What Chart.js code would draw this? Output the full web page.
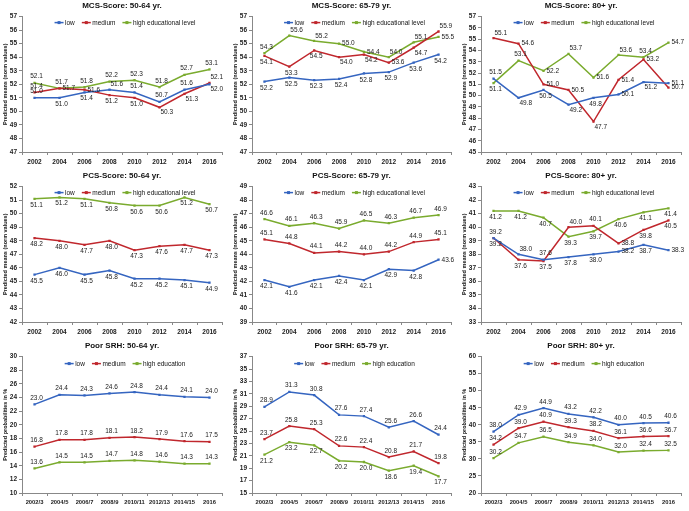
<!DOCTYPE html>
<html>
<head>
<meta charset="utf-8">
<script src="https://cdn.jsdelivr.net/npm/chart.js@4.4.1/dist/chart.umd.min.js"></script>
<style>
    body { margin: 0; background: #fff; }
    .panel { position: absolute; }
</style>
</head>
<body>
<div id="grid"></div>
<script>
// categories
const YEARS = ['2002', '2004', '2006', '2008', '2010', '2012', '2014', '2016']
const WAVES = ['2002/3', '2004/5', '2006/7', '2008/9', '2010/11', '2012/13', '2014/15', '2016']
const NAMES_SF12 = ['low', 'medium', 'high educational level']
const NAMES_SRH = ['low', 'medium', 'high education']

// MCS-Score
const mcs5064Low = [51.0, 51.0, 51.4, 51.6, 51.4, 50.7, 51.6, 52.0]
const mcs5064Medium = [51.4, 51.7, 51.6, 51.2, 51.0, 50.3, 51.3, 52.1]
const mcs5064High = [52.1, 51.7, 51.8, 52.2, 52.3, 51.8, 52.7, 53.1]

const mcs6579Low = [52.2, 52.5, 52.3, 52.4, 52.8, 52.9, 53.6, 54.2]
const mcs6579Medium = [54.1, 53.3, 54.5, 54.0, 54.2, 53.6, 54.7, 55.9]
const mcs6579High = [54.3, 55.6, 55.2, 55.0, 54.4, 54.0, 55.1, 55.5]

const mcs80Low = [51.5, 49.8, 50.5, 49.2, 49.8, 50.1, 51.2, 51.1]
const mcs80Medium = [55.1, 54.6, 51.0, 50.5, 47.7, 51.4, 53.2, 50.7]
const mcs80High = [51.1, 53.1, 52.2, 53.7, 51.6, 53.6, 53.4, 54.7]

// PCS-Score
const pcs5064Low = [45.5, 46.0, 45.5, 45.8, 45.2, 45.2, 45.1, 44.9]
const pcs5064Medium = [48.2, 48.0, 47.7, 48.0, 47.3, 47.6, 47.7, 47.3]
const pcs5064High = [51.1, 51.2, 51.1, 50.8, 50.6, 50.6, 51.2, 50.7]

const pcs6579Low = [42.1, 41.6, 42.1, 42.4, 42.1, 42.9, 42.8, 43.6]
const pcs6579Medium = [45.1, 44.8, 44.1, 44.2, 44.0, 44.2, 44.9, 45.1]
const pcs6579High = [46.6, 46.1, 46.3, 45.9, 46.5, 46.3, 46.7, 46.9]

const pcs80Low = [39.2, 38.0, 37.6, 37.8, 38.0, 38.2, 38.7, 38.3]
const pcs80Medium = [39.2, 37.6, 37.5, 40.0, 40.1, 38.8, 39.8, 40.5]
const pcs80High = [41.2, 41.2, 40.7, 39.3, 39.7, 40.6, 41.1, 41.4]

// Poor SRH (%)
const srh5064Low = [23.0, 24.4, 24.3, 24.6, 24.8, 24.4, 24.1, 24.0]
const srh5064Medium = [16.8, 17.8, 17.8, 18.1, 18.2, 17.9, 17.6, 17.5]
const srh5064High = [13.6, 14.5, 14.5, 14.7, 14.8, 14.6, 14.3, 14.3]

const srh6579Low = [28.9, 31.3, 30.8, 27.6, 27.4, 25.6, 26.6, 24.4]
const srh6579Medium = [23.7, 25.8, 25.3, 22.6, 22.4, 20.8, 21.7, 19.8]
const srh6579High = [21.2, 23.2, 22.7, 20.2, 20.0, 18.6, 19.4, 17.7]

const srh80Low = [38.0, 42.9, 44.9, 43.2, 42.2, 40.0, 40.5, 40.6]
const srh80Medium = [34.2, 39.0, 40.9, 39.3, 38.2, 36.1, 36.6, 36.7]
const srh80High = [30.2, 34.7, 36.5, 34.9, 34.0, 32.0, 32.4, 32.5]

const COLORS = ['#3565c0', '#c0272d', '#7aab2e']
const Y_MEANS = 'Predicted means (norm values)'
const Y_PROB = 'Predicted probabilities in %'

// label placement per series: a above, b below, r right, A above-right, B below-right
const PANELS = [
    { title: 'MCS-Score: 50-64 yr.', labels: YEARS, names: NAMES_SF12, data: [mcs5064Low, mcs5064Medium, mcs5064High], min: 47, max: 57, step: 1, yTitle: Y_MEANS,
      place: ['abbAaaaB', 'arrbbBBA', 'aaaaaaaa'] },
    { title: 'MCS-Score: 65-79 yr.', labels: YEARS, names: NAMES_SF12, data: [mcs6579Low, mcs6579Medium, mcs6579High], min: 47, max: 57, step: 1, yTitle: Y_MEANS,
      place: ['bbbbbbbb', 'bbbBBrBA', 'aAArrAAr'] },
    { title: 'MCS-Score: 80+ yr.', labels: YEARS, names: NAMES_SF12, data: [mcs80Low, mcs80Medium, mcs80High], min: 45, max: 57, step: 1, yTitle: Y_MEANS,
      place: ['aBbBbrBr', 'ArrrBrrr', 'barArAar'] },
    { title: 'PCS-Score: 50-64 yr.', labels: YEARS, names: NAMES_SF12, data: [pcs5064Low, pcs5064Medium, pcs5064High], min: 42, max: 52, step: 1, yTitle: Y_MEANS,
      place: ['bbbbbbbb', 'bbbbbbbb', 'bbbbbbbb'] },
    { title: 'PCS-Score: 65-79 yr.', labels: YEARS, names: NAMES_SF12, data: [pcs6579Low, pcs6579Medium, pcs6579High], min: 39, max: 49, step: 1, yTitle: Y_MEANS,
      place: ['bbbbbbbr', 'aaaaaaaa', 'aaaaaaaa'] },
    { title: 'PCS-Score: 80+ yr.', labels: YEARS, names: NAMES_SF12, data: [pcs80Low, pcs80Medium, pcs80High], min: 33, max: 43, step: 1, yTitle: Y_MEANS,
      place: ['aAabbrbr', 'bbbAarbb', 'bbbbbbbb'] },
    { title: 'Poor SRH: 50-64 yr.', labels: WAVES, names: NAMES_SRH, data: [srh5064Low, srh5064Medium, srh5064High], min: 10, max: 30, step: 2, yTitle: Y_PROB,
      place: ['aaaaaaaa', 'aaaaaaaa', 'aaaaaaaa'] },
    { title: 'Poor SRH: 65-79 yr.', labels: WAVES, names: NAMES_SRH, data: [srh6579Low, srh6579Medium, srh6579High], min: 15, max: 37, step: 2, yTitle: Y_PROB,
      place: ['aaaaaaaa', 'aaaaaaaa', 'bbbbbbbb'] },
    { title: 'Poor SRH: 80+ yr.', labels: WAVES, names: NAMES_SRH, data: [srh80Low, srh80Medium, srh80High], min: 20, max: 60, step: 5, yTitle: Y_PROB,
      place: ['aaaaaaaa', 'aaaaaaaa', 'aaaaaaaa'] },
]

const COL_X = [0, 230, 459]
const COL_W = [230, 229, 230]
const ROW_Y = [0, 170, 340]
const ROW_H = [170, 170, 171]
const FONT = '"Liberation Sans", Arial, sans-serif'

// draws the value of every point next to it
const valueLabels = {
    id: 'valueLabels',
    afterDatasetsDraw(chart, args, opts) {
        const ctx = chart.ctx
        ctx.save()
        ctx.font = `6.5px ${FONT}`
        ctx.fillStyle = '#222'
        chart.data.datasets.forEach((ds, i) => {
            const place = opts.place[i]
            chart.getDatasetMeta(i).data.forEach((pt, j) => {
                const txt = ds.data[j].toFixed(1)
                const p = place[j]
                let x = pt.x, y = pt.y
                if (p === 'a') { ctx.textAlign = 'center'; ctx.textBaseline = 'bottom'; x += 2; y -= 3 }
                else if (p === 'b') { ctx.textAlign = 'center'; ctx.textBaseline = 'top'; x += 2; y += 3 }
                else if (p === 'r') { ctx.textAlign = 'left'; ctx.textBaseline = 'middle'; x += 3 }
                else if (p === 'A') { ctx.textAlign = 'left'; ctx.textBaseline = 'bottom'; x += 1; y -= 2 }
                else { ctx.textAlign = 'left'; ctx.textBaseline = 'top'; x += 1; y += 2 }
                ctx.fillText(txt, x, y)
            })
        })
        ctx.restore()
    }
}

// horizontal legend inside the top of the plot (line + square marker)
const innerLegend = {
    id: 'innerLegend',
    afterDraw(chart, args, opts) {
        const ctx = chart.ctx
        const area = chart.chartArea
        ctx.save()
        ctx.font = `6.5px ${FONT}`
        ctx.textBaseline = 'middle'
        ctx.textAlign = 'left'
        const items = chart.data.datasets.map(ds => ({ text: ds.label, color: ds.borderColor, w: ctx.measureText(ds.label).width }))
        const lineW = 9, gap = 1.5, sep = 7
        const total = items.reduce((s, it) => s + lineW + gap + it.w, 0) + sep * (items.length - 1)
        let x = (area.left + area.right) / 2 - total / 2 + opts.shift
        const y = area.top + opts.dy
        items.forEach(it => {
            ctx.strokeStyle = it.color
            ctx.fillStyle = it.color
            ctx.lineWidth = 1.5
            ctx.beginPath()
            ctx.moveTo(x, y)
            ctx.lineTo(x + lineW, y)
            ctx.stroke()
            ctx.fillRect(x + lineW / 2 - 1.5, y - 1.5, 3, 3)
            ctx.fillStyle = '#111'
            ctx.fillText(it.text, x + lineW + gap, y + 0.5)
            x += lineW + gap + it.w + sep
        })
        ctx.restore()
    }
}

const grid = document.getElementById('grid')
PANELS.forEach((panel, k) => {
    const col = k % 3, row = Math.floor(k / 3)
    const div = document.createElement('div')
    div.className = 'panel'
    div.style.left = COL_X[col] + 'px'
    div.style.top = ROW_Y[row] + 'px'
    const canvas = document.createElement('canvas')
    canvas.width = COL_W[col]
    canvas.height = ROW_H[row]
    div.appendChild(canvas)
    grid.appendChild(div)

    const datasets = panel.data.map((values, i) => ({
        label: panel.names[i],
        data: values,
        borderColor: COLORS[i],
        backgroundColor: COLORS[i],
        borderWidth: 1.5,
        pointStyle: 'rect',
        pointRadius: 1.6,
        pointBorderWidth: 0,
        tension: 0,
    }))

    new Chart(canvas, {
        type: 'line',
        data: { labels: panel.labels, datasets },
        options: {
            responsive: false,
            animation: false,
            devicePixelRatio: 1,
            layout: { padding: { left: 2, right: 8, top: 0, bottom: 0 } },
            plugins: {
                title: {
                    display: true,
                    fullSize: false,
                    text: panel.title,
                    color: '#111',
                    font: { family: FONT, size: 8, weight: 'bold' },
                    padding: { top: 1, bottom: 6 },
                },
                legend: { display: false },
                tooltip: { enabled: false },
                valueLabels: { place: panel.place },
                innerLegend: { dy: row === 2 ? 7 : 6, shift: 3 },
            },
            scales: {
                x: {
                    offset: true,
                    afterFit: (s) => { s.height = 18 },
                    grid: { drawOnChartArea: false, drawTicks: true, tickLength: 3, offset: true, color: '#888' },
                    border: { display: true, color: '#888' },
                    ticks: { color: '#222', font: { family: FONT, size: row === 2 ? 5.8 : 6.5, weight: 'bold' }, padding: 3, maxRotation: 0, autoSkip: false },
                },
                y: {
                    min: panel.min,
                    max: panel.max,
                    afterFit: (s) => { s.width = 20 },
                    grid: { drawOnChartArea: false, drawTicks: true, tickLength: 3, color: '#888' },
                    border: { display: true, color: '#888' },
                    ticks: { stepSize: panel.step, color: '#222', font: { family: FONT, size: 6.5, weight: 'bold' }, padding: 2 },
                    title: { display: true, text: panel.yTitle, color: '#111', font: { family: FONT, size: 5.5, weight: 'bold' }, padding: 0 },
                },
            },
        },
        plugins: [valueLabels, innerLegend],
    })
})
</script>
</body>
</html>
